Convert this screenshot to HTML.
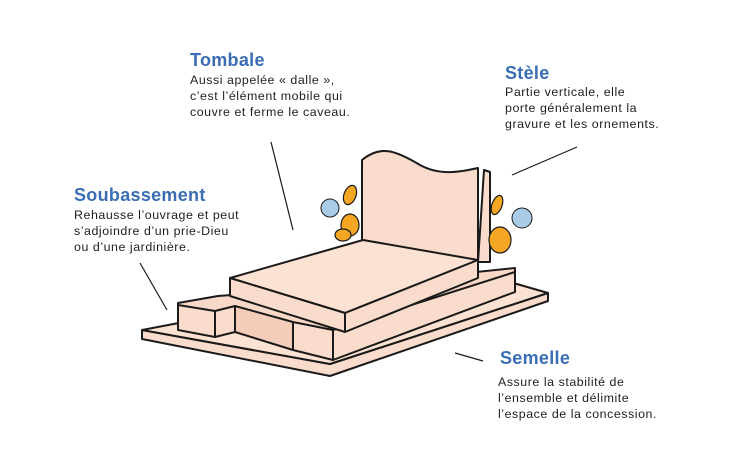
<!DOCTYPE html>
<html><head><meta charset="utf-8"><style>
body{margin:0;background:#fff;width:731px;height:456px;overflow:hidden;position:relative;font-family:"Liberation Sans",sans-serif}
.t{position:absolute;color:#3a6db3;font-weight:bold;font-size:18px;letter-spacing:0.3px}
.b{position:absolute;color:#1e1e1e;font-size:12.4px;line-height:16px;white-space:nowrap;letter-spacing:0.55px}
svg{position:absolute;left:0;top:0}
</style></head><body>
<svg width="731" height="456" viewBox="0 0 731 456">
<g stroke="#1a1a1a" stroke-width="2" stroke-linejoin="round" fill="#f9dccb">
<polygon points="142,330 330,364 548,293 548,301 330,376 142,339"/>
<polygon points="142,330 205,318 510,282 548,293 330,364" fill="#fbe2d3"/>
<polygon points="178,303 218,296 300,290 515,268 515,288 332,352 293,348 293,330 178,306" fill="#f8d8c6"/>
<polygon points="178,305 215,311 215,337 178,330"/>
<polygon points="215,311 235,306 235,332 215,337"/>
<polygon points="235,306 293,322 293,350 235,332" fill="#f3cdb9"/>
<polygon points="293,322 333,330 333,360 293,350"/>
<polygon points="333,330 515,272 515,292 333,360" fill="#f9dccb"/>
<path d="M484,170 L490,172 L490,262 L478,262 Z"/>
<path d="M362,160 C380,145 395,150 420,165 C440,176 460,172 478,168 L478,262 L362,240 Z"/>
<polygon points="230,278 363,240 478,260 345,313" fill="#fbe2d3"/>
<polygon points="230,278 345,313 345,332 230,296"/>
<polygon points="345,313 478,260 478,278 345,332"/>
</g>
<g fill="#f5a623" stroke="#1a1a1a" stroke-width="1.2">
<ellipse cx="350" cy="195" rx="6" ry="10" transform="rotate(20 350 195)"/>
<ellipse cx="350" cy="225" rx="9" ry="11"/>
<ellipse cx="343" cy="235" rx="8" ry="6"/>
<ellipse cx="497" cy="205" rx="5" ry="10" transform="rotate(20 497 205)"/>
<ellipse cx="500" cy="240" rx="11" ry="13"/>
</g>
<g fill="#a9cbe8" stroke="#1a1a1a" stroke-width="1">
<circle cx="330" cy="208" r="9"/><circle cx="522" cy="218" r="10"/>
</g>
<g stroke="#1a1a1a" stroke-width="1.2">
<line x1="271" y1="142" x2="293" y2="230"/>
<line x1="577" y1="147" x2="512" y2="175"/>
<line x1="140" y1="263" x2="167" y2="310"/>
<line x1="455" y1="353" x2="483" y2="361"/>
</g>
</svg>
<div class="t" style="left:190px;top:50px">Tombale</div>
<div class="b" style="left:190px;top:72px">Aussi appelée « dalle »,<br>c’est l’élément mobile qui<br>couvre et ferme le caveau.</div>
<div class="t" style="left:505px;top:63px">Stèle</div>
<div class="b" style="left:505px;top:84px">Partie verticale, elle<br>porte généralement la<br>gravure et les ornements.</div>
<div class="t" style="left:74px;top:185px">Soubassement</div>
<div class="b" style="left:74px;top:207px">Rehausse l’ouvrage et peut<br>s’adjoindre d’un prie-Dieu<br>ou d’une jardinière.</div>
<div class="t" style="left:500px;top:348px">Semelle</div>
<div class="b" style="left:498px;top:374px">Assure la stabilité de<br>l’ensemble et délimite<br>l’espace de la concession.</div>
</body></html>
